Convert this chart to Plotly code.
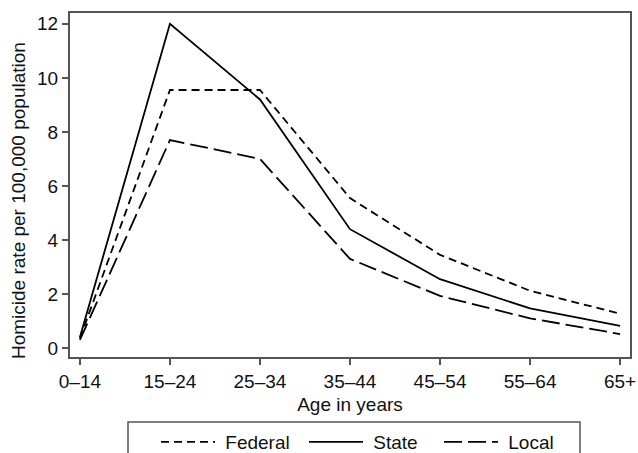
import plotly.graph_objects as go

age_groups = ["0–14", "15–24", "25–34", "35–44", "45–54", "55–64", "65+"]
federal = [0.35, 9.55, 9.55, 5.55, 3.45, 2.12, 1.27]
state = [0.4, 12.0, 9.2, 4.4, 2.55, 1.47, 0.82]
local = [0.3, 7.7, 7.0, 3.3, 1.93, 1.1, 0.52]
y_ticks = [0, 2, 4, 6, 8, 10, 12]

FONT = "Liberation Sans, Arial, Helvetica, sans-serif"
FS = 19
AX = "#555555"
NB = "\u00a0"

x_idx = list(range(len(age_groups)))

fig = go.Figure()
fig.add_trace(go.Scatter(x=x_idx, y=federal, mode="lines", name=NB + "Federal", legend="legend",
                         line=dict(color="black", width=1.8, dash="8px,5px")))
fig.add_trace(go.Scatter(x=x_idx, y=state, mode="lines", name=NB + "State", legend="legend2",
                         line=dict(color="black", width=1.8)))
fig.add_trace(go.Scatter(x=x_idx, y=local, mode="lines", name=NB + "Local", legend="legend3",
                         line=dict(color="black", width=1.8, dash="18px,6px")))

def px_x(p):
    return (p - 70) / 560

def px_y(p):
    return (357 - p) / 344

def leg(xpx):
    return dict(orientation="h", x=px_x(xpx), xanchor="left", y=px_y(442), yanchor="middle",
                itemwidth=54, bgcolor="rgba(0,0,0,0)", borderwidth=0,
                font=dict(family=FONT, size=FS, color="#111111"))

fig.update_layout(
    width=638, height=453,
    margin=dict(l=70, r=8, t=13, b=96, autoexpand=False),
    paper_bgcolor="white", plot_bgcolor="white",
    font=dict(family=FONT, size=FS, color="#111111"),
    showlegend=True,
    legend=leg(156), legend2=leg(304), legend3=leg(439),
    xaxis=dict(range=[-0.11, 6.11], tickmode="array", tickvals=x_idx, ticktext=age_groups,
               showgrid=False, zeroline=False, showline=True, linecolor=AX, linewidth=2,
               mirror=True, ticks="outside", ticklen=6, tickwidth=1.5, tickcolor=AX,
               ticklabeloverflow="allow", automargin=False,
               title=dict(text="Age in years", standoff=7, font=dict(size=FS))),
    yaxis=dict(range=[-0.33, 12.4], tickmode="array", tickvals=y_ticks,
               showgrid=False, zeroline=False, showline=True, linecolor=AX, linewidth=2,
               mirror=True, ticks="outside", ticklen=6, tickwidth=1.5, tickcolor=AX,
               automargin=False),
    shapes=[dict(type="rect", xref="paper", yref="paper",
                 x0=px_x(128), x1=px_x(580), y0=px_y(470), y1=px_y(422),
                 line=dict(color=AX, width=1.5), fillcolor="rgba(0,0,0,0)")],
    annotations=[dict(text="Homicide rate per 100,000 population", textangle=-90,
                      xref="paper", yref="paper", x=px_x(18), y=px_y(201),
                      xanchor="center", yanchor="middle", showarrow=False,
                      font=dict(family=FONT, size=FS, color="#111111"))],
)

fig.write_html("out.html", config={"displayModeBar": False},
               post_script="document.body.style.margin='0';document.body.style.overflow='hidden';")
